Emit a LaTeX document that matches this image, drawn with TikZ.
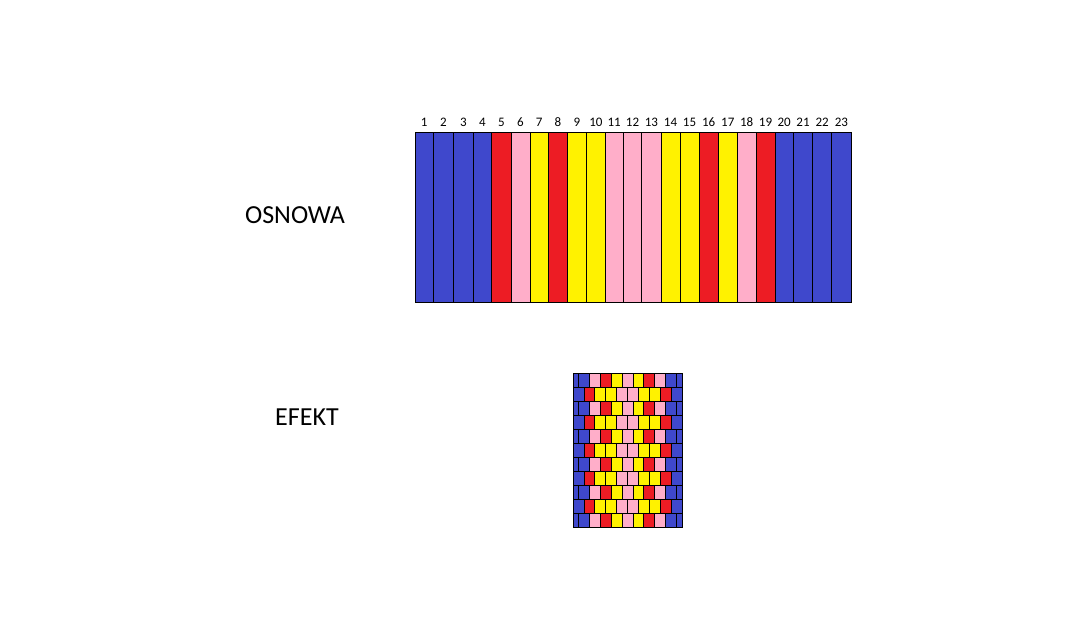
\documentclass[tikz,border=0pt]{standalone}
\usepackage{fontspec}
\setmainfont{Carlito}
\definecolor{pblue}{HTML}{3F48CC}
\definecolor{pred}{HTML}{ED1C24}
\definecolor{ppink}{HTML}{FFAEC9}
\definecolor{pyellow}{HTML}{FFF200}
\begin{document}
\begin{tikzpicture}[x=1pt,y=-1pt,
  stripe/.style={draw=black, line width=0.8pt},
  cellbox/.style={draw=black, line width=0.8pt},
  numlbl/.style={inner sep=0pt, font=\fontsize{13}{15}\selectfont},
  biglbl/.style={inner sep=0pt, font=\fontsize{26}{30}\selectfont}]
\useasboundingbox[fill=white] (0,0) rectangle (1080,629);
% warp stripes
\foreach \a/\b/\c/\n in {
  415/433.3/pblue/1, 433.3/453.3/pblue/2, 453.3/473.3/pblue/3, 473.3/491.7/pblue/4,
  491.7/511/pred/5, 511/530/ppink/6, 530/548.3/pyellow/7, 548.3/567.3/pred/8,
  567.3/586.7/pyellow/9, 586.7/605/pyellow/10, 605/623.3/ppink/11, 623.3/641.7/ppink/12,
  641.7/661/ppink/13, 661/680/pyellow/14, 680/699/pyellow/15, 699/718.3/pred/16,
  718.3/737.3/pyellow/17, 737.3/756/ppink/18, 756/775/pred/19, 775/793.3/pblue/20,
  793.3/812.7/pblue/21, 812.7/831.7/pblue/22, 831.7/851/pblue/23} {
  \filldraw[stripe, fill=\c] (\a,132) rectangle (\b,302);
  \node[numlbl] (n\n) at ({(\a+\b)/2},122.5) {\n};
}
\node[biglbl] (osnowa) at (295,215) {OSNOWA};
\node[biglbl] (efekt) at (307,416.7) {EFEKT};
% effect (woven) pattern
\def\xo{573}\def\cw{10.9}\def\yo{373.5}\def\rh{14}
\foreach \r in {0,2,4,6,8,10} {
  \foreach \s/\e/\c in {0/0.5/pblue, 0.5/1.5/pblue, 1.5/2.5/ppink, 2.5/3.5/pred,
    3.5/4.5/pyellow, 4.5/5.5/ppink, 5.5/6.5/pyellow, 6.5/7.5/pred, 7.5/8.5/ppink,
    8.5/9.5/pblue, 9.5/10/pblue} {
    \filldraw[cellbox, fill=\c] ({\xo+\s*\cw},{\yo+\r*\rh}) rectangle ({\xo+\e*\cw},{\yo+(\r+1)*\rh});
  }
}
\foreach \r in {1,3,5,7,9} {
  \foreach \s/\c in {0/pblue, 1/pred, 2/pyellow, 3/pyellow, 4/ppink, 5/ppink,
    6/pyellow, 7/pyellow, 8/pred, 9/pblue} {
    \filldraw[cellbox, fill=\c] ({\xo+\s*\cw},{\yo+\r*\rh}) rectangle ({\xo+(\s+1)*\cw},{\yo+(\r+1)*\rh});
  }
}
\draw[cellbox] (\xo,\yo) rectangle ({\xo+10*\cw},{\yo+11*\rh});
\end{tikzpicture}
\end{document}
